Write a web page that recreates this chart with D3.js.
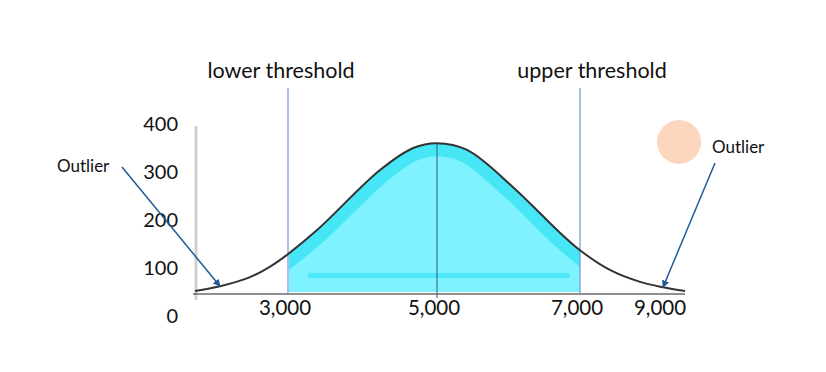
<!DOCTYPE html>
<html>
<head>
<meta charset="utf-8">
<script src="https://cdn.jsdelivr.net/npm/d3@7"></script>
<style>
  body { margin: 0; background: #fff; }
  text { font-family: Lato, "Open Sans", sans-serif; fill: #111; }
</style>
</head>
<body>
<svg id="chart" width="826" height="372"></svg>
<script>
// curve
const curveX = [1700, 2050, 2470, 2750, 3000, 3390, 4235, 4680, 5000, 5420, 6060, 6680, 7000, 7720, 8450, 9000, 9500];
const curveY = [52, 62, 81, 103, 129, 179, 304, 350, 360, 346, 269, 179, 137, 96, 71, 60, 52];
const yTicks = [0, 100, 200, 300, 400];
const xTicks = [3000, 5000, 7000, 9000];
const thresholds = [3000, 7000];
const thresholdLabels = ["lower threshold", "upper threshold"];
const meanValue = 5000;
const outlierX = [2050, 9000];
const outlierY = [62, 60];

const svg = d3.select("#chart");
const baseY = 294;

const x = d3.scaleLinear()
  .domain([1700, 3000, 5000, 7000, 9000, 9500])
  .range([195, 288, 437, 580, 663, 685]);
const y = d3.scaleLinear().domain([0, 400]).range([316, 124]);

const pts = curveX.map((d, i) => ({ x: d, y: curveY[i] }));
const smooth = d3.curveCatmullRom.alpha(0.5);

const defs = svg.append("defs");
defs.append("clipPath").attr("id", "band")
  .append("rect")
  .attr("x", x(thresholds[0]) + 1)
  .attr("y", 0)
  .attr("width", x(thresholds[1]) - x(thresholds[0]) - 1)
  .attr("height", baseY - 2);
defs.append("marker").attr("id", "arrow")
  .attr("viewBox", "0 0 10 10").attr("refX", 9).attr("refY", 5)
  .attr("markerWidth", 5).attr("markerHeight", 5).attr("orient", "auto")
  .append("path").attr("d", "M0,0L10,5L0,10z").attr("fill", "#1f5c99");

const line = d3.line().x(d => x(d.x)).y(d => y(d.y)).curve(smooth);
const area = d3.area().x(d => x(d.x)).y0(baseY).y1(d => y(d.y)).curve(smooth);

// cyan fill between the thresholds
const fillG = svg.append("g").attr("clip-path", "url(#band)");
fillG.append("path").attr("d", area(pts)).attr("fill", "#7ef2ff");
fillG.append("clipPath").attr("id", "under")
  .append("path").attr("d", area(pts));
fillG.append("path")
  .attr("d", line(pts))
  .attr("fill", "none")
  .attr("stroke", "#1adcf1")
  .attr("stroke-opacity", 0.55)
  .attr("stroke-width", 26)
  .attr("clip-path", "url(#under)");
fillG.append("rect")
  .attr("x", x(thresholds[0]) + 20).attr("y", baseY - 21)
  .attr("width", x(thresholds[1]) - x(thresholds[0]) - 30).attr("height", 5)
  .attr("rx", 2)
  .attr("fill", "#1adcf1").attr("opacity", 0.5);

// grey y axis line
svg.append("line")
  .attr("x1", 196).attr("x2", 196).attr("y1", 126).attr("y2", 300)
  .attr("stroke", "#cfcfcf").attr("stroke-width", 3);

// baseline
svg.append("line")
  .attr("x1", x(1700) - 2).attr("x2", x(9500))
  .attr("y1", baseY).attr("y2", baseY)
  .attr("stroke", "#222").attr("stroke-width", 1.2);

// threshold lines and labels
thresholds.forEach((t, i) => {
  svg.append("line")
    .attr("x1", x(t)).attr("x2", x(t)).attr("y1", 88).attr("y2", baseY)
    .attr("stroke", "#6f95e0").attr("stroke-width", 1.2);
  svg.append("text")
    .attr("x", x(t) + (i === 0 ? -7 : 12)).attr("y", 78)
    .attr("text-anchor", "middle").attr("font-size", 21.5)
    .text(thresholdLabels[i]);
});

// mean line
svg.append("line")
  .attr("x1", x(meanValue)).attr("x2", x(meanValue))
  .attr("y1", y(d3.max(curveY))).attr("y2", baseY + 4)
  .attr("stroke", "#2b5f7a").attr("stroke-width", 1);

// curve
svg.append("path").attr("d", line(pts))
  .attr("fill", "none").attr("stroke", "#333").attr("stroke-width", 2);

// tick labels
svg.selectAll(".ytick").data(yTicks).enter().append("text")
  .attr("x", 178).attr("y", d => y(d) + 7)
  .attr("text-anchor", "end").attr("font-size", 20)
  .text(d => d);
svg.selectAll(".xtick").data(xTicks).enter().append("text")
  .attr("x", d => x(d) - 3).attr("y", 315)
  .attr("text-anchor", "middle").attr("font-size", 20.5)
  .text(d => d3.format(",")(d));

// outliers
svg.append("circle").attr("cx", 679).attr("cy", 142).attr("r", 22).attr("fill", "#fcd6bd");
const labelPos = [[57, 172, 122, 167], [712, 153, 715, 163]];
outlierX.forEach((ox, i) => {
  const [tx, ty, ax, ay] = labelPos[i];
  svg.append("text").attr("x", tx).attr("y", ty).attr("font-size", 17).text("Outlier");
  svg.append("line")
    .attr("x1", ax).attr("y1", ay)
    .attr("x2", x(ox)).attr("y2", y(outlierY[i]))
    .attr("stroke", "#1f5c99").attr("stroke-width", 1.5)
    .attr("marker-end", "url(#arrow)");
});
</script>
</body>
</html>
